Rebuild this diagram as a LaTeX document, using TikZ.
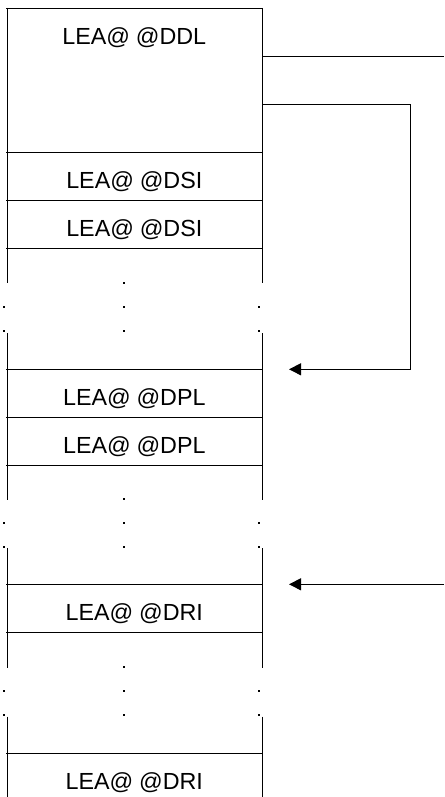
\documentclass[tikz,border=0pt]{standalone}
\usepackage{fontspec}
\setmainfont{Liberation Sans}
\usetikzlibrary{arrows.meta}
\newcommand{\atat}{@\kern0.25em@}
\begin{document}
\begin{tikzpicture}[x=1pt,y=-1pt,
  wall/.style={line width=0.9pt},
  rowtext/.style={anchor=base,inner sep=0pt,font=\fontsize{23.3}{28}\selectfont},
  dotmark/.style={fill=black},
  conn/.style={line width=0.9pt},
  arr/.style={conn,-{Triangle[length=12pt,width=12pt]}}]
\useasboundingbox (0,0) rectangle (444,797);
% horizontal separators
\foreach \yy in {8,152.3,200.3,248.3,369.3,417.3,465.3,584.3,632.3,753}
  \draw[wall] (6,\yy) -- (263,\yy);
% walls
\foreach \ya/\yb in {8/283.3,333.3/500,548.3/668.3,716.7/797}{
  \draw[wall] (7.3,\ya) -- (7.3,\yb);
  \draw[wall] (262.3,\ya) -- (262.3,\yb);
}
% dots
\foreach \yt in {0,216,384}{
  \fill[dotmark] (123.4,283.3+\yt-1) rectangle ++(2,2);
  \foreach \yd in {306.7,330.7}{
    \fill[dotmark] (123.4,\yd+\yt-1) rectangle ++(2,2);
    \fill[dotmark] (2.7,\yd+\yt-1) rectangle ++(2,2);
    \fill[dotmark] (258.3,\yd+\yt-1) rectangle ++(2,2);
  }
}
% texts
\node[rowtext] (ddl) at (134.3,44.3) {LEA\atat DDL};
\node[rowtext] (dsia) at (134.3,188.8) {LEA\atat DSI};
\node[rowtext] (dsib) at (134.3,236.8) {LEA\atat DSI};
\node[rowtext] (dpla) at (134.3,405.8) {LEA\atat DPL};
\node[rowtext] (dplb) at (134.3,453.8) {LEA\atat DPL};
\node[rowtext] (dria) at (134.3,620.8) {LEA\atat DRI};
\node[rowtext] (drib) at (134.3,789.5) {LEA\atat DRI};
% connectors
\coordinate (c1a) at (262.3,56);
\coordinate (c1b) at (444,56);
\coordinate (c2a) at (262.3,104.3);
\coordinate (c2b) at (410.7,369.3);
\coordinate (c2c) at (289,369.3);
\coordinate (c3a) at (444,584.3);
\coordinate (c3b) at (289,584.3);
\draw[conn] (c1a) -- (c1b);
\draw[arr] (c2a) -| (c2b) -- (c2c);
\draw[arr] (c3a) -- (c3b);
\end{tikzpicture}
\end{document}
